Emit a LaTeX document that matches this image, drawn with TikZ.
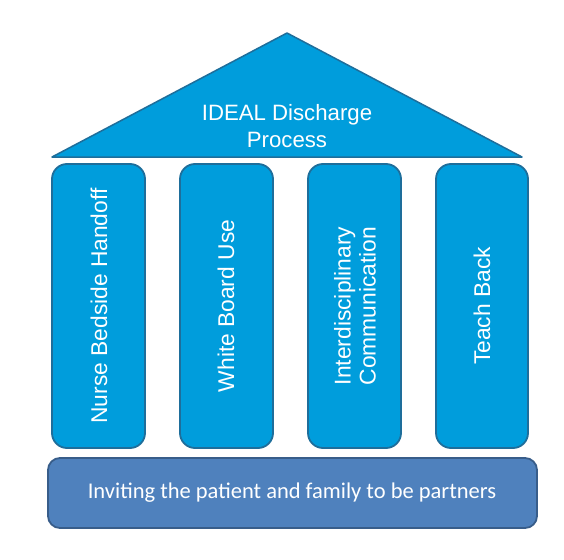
\documentclass[tikz,border=0pt]{standalone}
\usepackage{fontspec}
\setmainfont{Liberation Sans}
\newfontfamily\calibri{Carlito}
\begin{document}
\begin{tikzpicture}[x=1pt,y=-1pt,
  pillar/.style={draw=pillarline,fill=pillarfill,line width=1.8pt,rounded corners=15pt},
  ptext/.style={text=white,font=\fontsize{22.8}{25}\selectfont,align=center,rotate=90,inner sep=0pt}]
\definecolor{pillarfill}{RGB}{0,157,220}
\definecolor{pillarline}{RGB}{30,110,155}
\definecolor{basefill}{RGB}{79,129,189}
\definecolor{baseline}{RGB}{56,93,138}
\useasboundingbox (0,0) rectangle (564,559);
\fill[white] (0,0) rectangle (564,559);
% roof
\draw[draw=pillarline,fill=pillarfill,line width=1.5pt,line join=round] (52,157) -- (287,33) -- (522,157) -- cycle;
\node[text=white,font=\fontsize{22.2}{27}\selectfont,align=center,inner sep=0pt] (roof) at (287,126) {IDEAL Discharge\\Process};
% pillars
\draw[pillar] (52,164) rectangle (145,448);
\draw[pillar] (180,164) rectangle (273,448);
\draw[pillar] (308,164) rectangle (401,448);
\draw[pillar] (436,164) rectangle (528,448);
\node[ptext] (p1) at (99,306) {Nurse Bedside Handoff};
\node[ptext] (p2) at (226,306) {White Board Use};
\node[ptext] (p3) at (355,306) {Interdisciplinary\\Communication};
\node[ptext] (p4) at (482,306) {Teach Back};
% base
\draw[draw=baseline,fill=basefill,line width=1.8pt,rounded corners=12pt] (48,458) rectangle (537,528);
\node[text=white,font=\calibri\fontsize{22.5}{26}\selectfont,inner sep=0pt] (base) at (292,493) {Inviting the patient and family to be partners};
\end{tikzpicture}
\end{document}
